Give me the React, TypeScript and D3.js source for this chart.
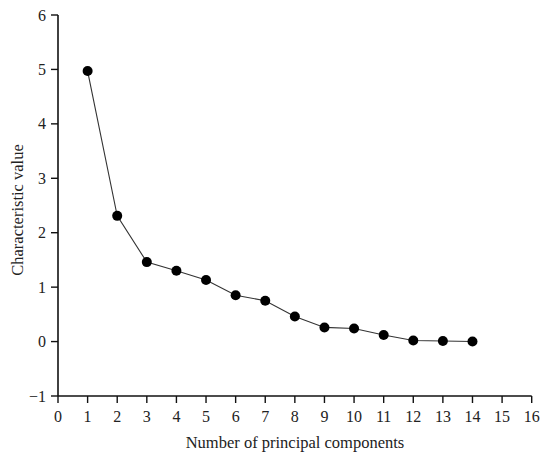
import React from "react";
import * as d3 from "d3";

const components = [1, 2, 3, 4, 5, 6, 7, 8, 9, 10, 11, 12, 13, 14];
const values = [4.97, 2.31, 1.46, 1.3, 1.13, 0.85, 0.75, 0.46, 0.26, 0.24, 0.12, 0.02, 0.01, 0.0];
const xTicks = d3.range(0, 17);
const yTicks = [-1, 0, 1, 2, 3, 4, 5, 6];

const W = 550;
const H = 464;
const left = 58;
const right = 531.7;
const top = 15;
const bottom = 396;

export default function App() {
  const x = d3.scaleLinear().domain([0, 16]).range([left, right]);
  const y = d3.scaleLinear().domain([-1, 6]).range([bottom, top]);
  const line = d3
    .line<number>()
    .x((_, i) => x(components[i]))
    .y((d) => y(d));
  const font = "'Liberation Serif', 'Times New Roman', serif";
  return (
    <svg
      width={W}
      height={H}
      style={{ position: "absolute", left: 0, top: 0, background: "#fff" }}
      fontFamily={font}
    >
      <path d={line(values) || ""} fill="none" stroke="#333" strokeWidth={1.1} />
      {values.map((v, i) => (
        <circle key={i} cx={x(components[i])} cy={y(v)} r={5} fill="#000" />
      ))}
      {/* axes */}
      <line x1={left} x2={left} y1={top} y2={bottom} stroke="#111" strokeWidth={1.6} />
      <line x1={left} x2={right} y1={bottom} y2={bottom} stroke="#111" strokeWidth={1.6} />
      {yTicks.map((t) => (
        <g key={t}>
          <line x1={left - 7} x2={left} y1={y(t)} y2={y(t)} stroke="#111" strokeWidth={1.4} />
          <text x={left - 12} y={y(t)} dy="0.35em" textAnchor="end" fontSize={16} fill="#222">
            {t < 0 ? "\u2212" + Math.abs(t) : t}
          </text>
        </g>
      ))}
      {xTicks.map((t) => (
        <g key={t}>
          <line x1={x(t)} x2={x(t)} y1={bottom} y2={bottom + 7} stroke="#111" strokeWidth={1.4} />
          <text x={x(t)} y={422} textAnchor="middle" fontSize={16} fill="#222">
            {t}
          </text>
        </g>
      ))}
      <text x={295} y={448} textAnchor="middle" fontSize={16.5} fill="#222">
        Number of principal components
      </text>
      <text
        transform={`translate(23, 210) rotate(-90)`}
        textAnchor="middle"
        fontSize={16.5}
        fill="#222"
      >
        Characteristic value
      </text>
    </svg>
  );
}
